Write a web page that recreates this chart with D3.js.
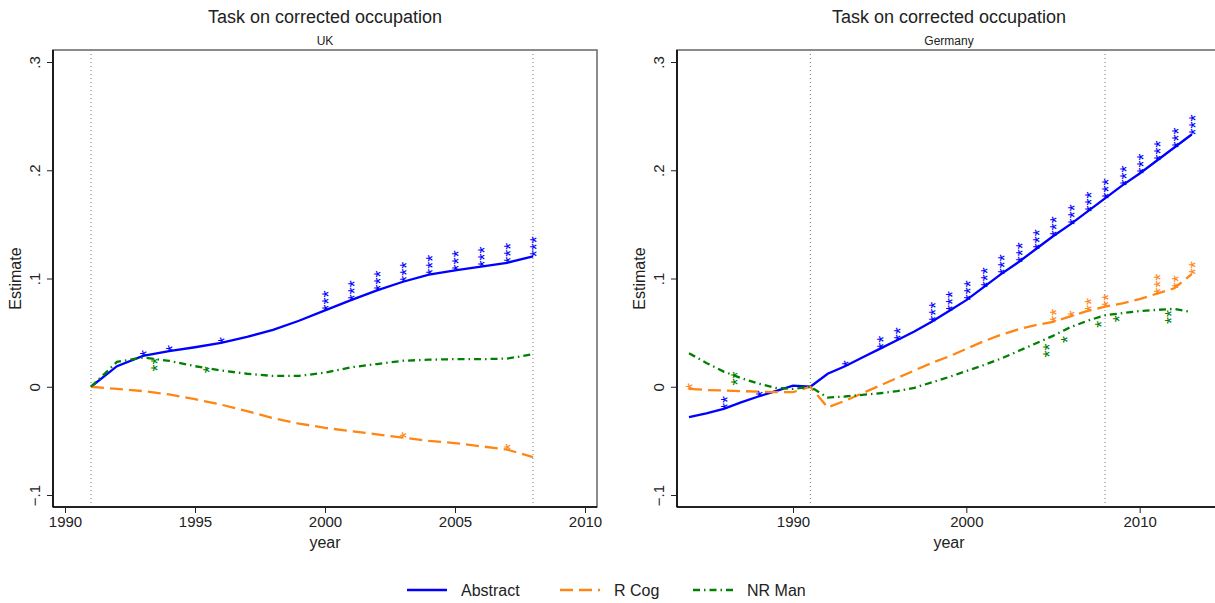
<!DOCTYPE html>
<html>
<head>
<meta charset="utf-8">
<script src="https://cdn.jsdelivr.net/npm/d3@7"></script>
<style>
  body { margin: 0; background: #fff; }
  text { font-family: "Liberation Sans", Arial, Helvetica, sans-serif; fill: #222; }
</style>
</head>
<body>
<svg id="chart" width="1215" height="603"></svg>
<script>
// ---- Data -------------------------------------------------------------
const seriesNames = ["Abstract", "R Cog", "NR Man"];

const ukYears = [1991, 1992, 1993, 1994, 1995, 1996, 1997, 1998, 1999,
                 2000, 2001, 2002, 2003, 2004, 2005, 2006, 2007, 2008];
const ukAbstract = [0, 0.019, 0.0285, 0.033, 0.0365, 0.0405, 0.046, 0.0525, 0.061,
                    0.0705, 0.080, 0.089, 0.097, 0.1035, 0.1075, 0.111, 0.1145, 0.1205];
const ukRCog = [0, -0.002, -0.004, -0.007, -0.0115, -0.0165, -0.0225, -0.029, -0.034,
                -0.038, -0.041, -0.044, -0.047, -0.050, -0.052, -0.055, -0.058, -0.065];
const ukNRMan = [0, 0.023, 0.027, 0.024, 0.019, 0.015, 0.012, 0.010, 0.010,
                 0.013, 0.018, 0.021, 0.024, 0.025, 0.0255, 0.0255, 0.026, 0.030];
// significance stars (number of asterisks per year)
const ukAbstractSig = [0, 0, 1, 1, 0, 1, 0, 0, 0, 3, 3, 3, 3, 3, 3, 3, 3, 3];
const ukRCogSig     = [0, 0, 0, 0, 0, 0, 0, 0, 0, 0, 0, 0, 1, 0, 0, 0, 1, 0];
const ukNRManSig    = [0, 0, 2, 0, 1, 0, 0, 0, 0, 0, 0, 0, 0, 0, 0, 0, 0, 0];

const deYears = [1984, 1985, 1986, 1987, 1988, 1989, 1990, 1991, 1992, 1993,
                 1994, 1995, 1996, 1997, 1998, 1999, 2000, 2001, 2002, 2003,
                 2004, 2005, 2006, 2007, 2008, 2009, 2010, 2011, 2012, 2013];
const deAbstract = [-0.028, -0.0245, -0.0205, -0.0145, -0.009, -0.004, 0.001, 0, 0.012, 0.019,
                    0.027, 0.035, 0.043, 0.051, 0.060, 0.070, 0.080, 0.092, 0.104, 0.115,
                    0.127, 0.139, 0.150, 0.162, 0.174, 0.186, 0.197, 0.209, 0.221, 0.233];
const deRCog = [-0.002, -0.003, -0.0035, -0.004, -0.0045, -0.005, -0.005, 0, -0.019, -0.013,
                -0.006, 0.001, 0.008, 0.015, 0.022, 0.028, 0.035, 0.042, 0.048, 0.053,
                0.057, 0.060, 0.065, 0.070, 0.074, 0.077, 0.081, 0.086, 0.091, 0.104];
const deNRMan = [0.031, 0.022, 0.014, 0.008, 0.003, -0.001, -0.002, 0, -0.010, -0.009,
                 -0.0075, -0.006, -0.004, -0.001, 0.004, 0.009, 0.0145, 0.020, 0.026, 0.033,
                 0.040, 0.047, 0.055, 0.061, 0.066, 0.068, 0.070, 0.071, 0.072, 0.069];
const deAbstractSig = [0, 0, 2, 0, 1, 0, 0, 0, 0, 1, 0, 2, 2, 0, 3, 3, 3, 3, 3, 3,
                       3, 3, 3, 3, 3, 3, 3, 3, 3, 3];
const deRCogSig     = [1, 0, 0, 0, 0, 0, 0, 0, 0, 0, 0, 0, 0, 0, 0, 0, 0, 0, 0, 0,
                       0, 2, 1, 2, 2, 0, 0, 3, 2, 2];
const deNRManSig    = [0, 0, 2, 0, 0, 0, 0, 0, 0, 0, 0, 0, 0, 0, 0, 0, 0, 0, 0, 0,
                       2, 1, 0, 1, 1, 0, 0, 2, 0, 0];

const refYears = [1991, 2008];
const yTicks = [-0.1, 0, 0.1, 0.2, 0.3];
const yTickLabels = ["\u2212.1", "0", ".1", ".2", ".3"];
const ukXTicks = [1990, 1995, 2000, 2005, 2010];
const deXTicks = [1990, 2000, 2010];

// ---- Styles -----------------------------------------------------------
const styles = {
  "Abstract": { color: "#0000ff", dash: null,          width: 2.3 },
  "R Cog":    { color: "#ff8614", dash: "13,6",        width: 2.3 },
  "NR Man":   { color: "#008000", dash: "7,4,1.5,4",   width: 2.3 }
};

const panels = [
  { title: "Task on corrected occupation", subtitle: "UK",
    left: 53, right: 597, xDomain: [1990, 2010], xTicks: ukXTicks,
    years: ukYears,
    values: { "Abstract": ukAbstract, "R Cog": ukRCog, "NR Man": ukNRMan },
    sig:    { "Abstract": ukAbstractSig, "R Cog": ukRCogSig, "NR Man": ukNRManSig } },
  { title: "Task on corrected occupation", subtitle: "Germany",
    left: 677, right: 1221, xDomain: [1984, 2014], xTicks: deXTicks,
    years: deYears,
    values: { "Abstract": deAbstract, "R Cog": deRCog, "NR Man": deNRMan },
    sig:    { "Abstract": deAbstractSig, "R Cog": deRCogSig, "NR Man": deNRManSig } }
];

// ---- Drawing ----------------------------------------------------------
const svg = d3.select("#chart");
const plotTop = 50, plotBottom = 507, pad = 12;
const y = d3.scaleLinear().domain([-0.1, 0.3]).range([plotBottom - pad, plotTop + pad]);
const STAR_FS = 18;

panels.forEach(p => {
  const x = d3.scaleLinear().domain(p.xDomain).range([p.left + pad, p.right - pad]);
  const g = svg.append("g");
  const cx = (p.left + p.right) / 2;

  g.append("text").attr("x", cx).attr("y", 23).attr("text-anchor", "middle")
    .style("font-size", "18px").text(p.title);
  g.append("text").attr("x", cx).attr("y", 45).attr("text-anchor", "middle")
    .style("font-size", "12px").text(p.subtitle);

  // plot frame
  g.append("rect").attr("x", p.left).attr("y", plotTop)
    .attr("width", p.right - p.left).attr("height", plotBottom - plotTop)
    .attr("fill", "none").attr("stroke", "#666").attr("stroke-width", 1.5);

  // reference years
  g.selectAll("line.ref").data(refYears).join("line")
    .attr("x1", d => x(d)).attr("x2", d => x(d))
    .attr("y1", plotTop).attr("y2", plotBottom)
    .attr("stroke", "#777").attr("stroke-width", 1).attr("stroke-dasharray", "1,3");

  // axes
  const yAxis = d3.axisLeft(y).tickValues(yTicks).tickSize(6)
    .tickFormat((d, i) => yTickLabels[i]);
  const ya = g.append("g").attr("transform", `translate(${p.left},0)`).call(yAxis);
  ya.select(".domain").attr("stroke", "#000").attr("stroke-width", 1.6)
    .attr("d", `M0,${plotTop}V${plotBottom}`);
  ya.selectAll(".tick line").attr("stroke", "#222");
  ya.selectAll(".tick text").attr("x", null).attr("dy", null)
    .attr("text-anchor", "middle").attr("transform", "translate(-13,0) rotate(-90)")
    .style("font-size", "15px").attr("fill", "#222");

  const xAxis = d3.axisBottom(x).tickValues(p.xTicks).tickSize(6).tickFormat(d3.format("d"));
  const xa = g.append("g").attr("transform", `translate(0,${plotBottom})`).call(xAxis);
  xa.select(".domain").attr("stroke", "#000").attr("stroke-width", 1.6)
    .attr("d", `M${p.left},0H${p.right}`);
  xa.selectAll(".tick line").attr("stroke", "#222");
  xa.selectAll(".tick text").style("font-size", "15px").attr("fill", "#222");

  g.append("text").attr("x", cx).attr("y", 548).attr("text-anchor", "middle")
    .style("font-size", "16px").text("year");
  g.append("text").attr("transform", `translate(${p.left - 32},${(plotTop + plotBottom) / 2}) rotate(-90)`)
    .attr("text-anchor", "middle").style("font-size", "16px").text("Estimate");

  // series lines
  seriesNames.forEach(name => {
    const st = styles[name];
    const pts = p.years.map((yr, i) => [yr, p.values[name][i]]);
    g.append("path").datum(pts)
      .attr("d", d3.line().x(d => x(d[0])).y(d => y(d[1])))
      .attr("fill", "none").attr("stroke", st.color).attr("stroke-width", st.width)
      .attr("stroke-dasharray", st.dash);
  });

  // significance stars
  seriesNames.forEach(name => {
    const st = styles[name];
    const rows = p.years.map((yr, i) => ({ yr, v: p.values[name][i], n: p.sig[name][i] }))
      .filter(d => d.n > 0);
    const below = name === "NR Man";
    g.selectAll(null).data(rows).join("text")
      .attr("transform", d => below
        ? `translate(${x(d.yr) + 10.5 + STAR_FS * 0.57},${y(d.v)}) rotate(-90)`
        : `translate(${x(d.yr) + STAR_FS * 0.57},${y(d.v) + 1}) rotate(-90)`)
      .attr("text-anchor", below ? "end" : "start")
      .style("font-size", STAR_FS + "px").style("fill", st.color)
      .text(d => "*".repeat(d.n));
  });
});

// legend
const legendItems = [
  { name: "Abstract", x: 407 },
  { name: "R Cog", x: 560 },
  { name: "NR Man", x: 693 }
];
const lg = svg.append("g");
legendItems.forEach(it => {
  const st = styles[it.name];
  lg.append("line").attr("x1", it.x).attr("x2", it.x + 40).attr("y1", 590).attr("y2", 590)
    .attr("stroke", st.color).attr("stroke-width", st.width).attr("stroke-dasharray", st.dash);
  lg.append("text").attr("x", it.x + 54).attr("y", 596).style("font-size", "16px").text(it.name);
});
</script>
</body>
</html>
